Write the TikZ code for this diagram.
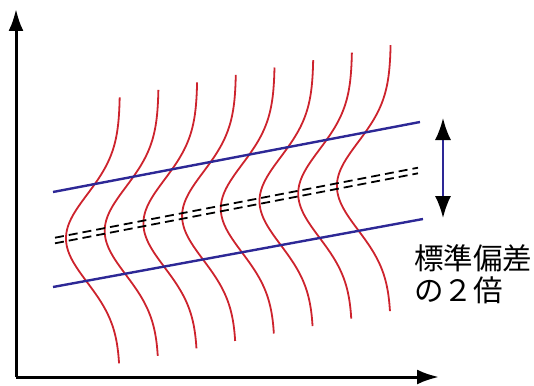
\documentclass[tikz,border=0pt]{standalone}
\usepackage{fontspec}
\newfontfamily\jpfont{Noto Sans CJK JP}
\usetikzlibrary{arrows.meta}
\definecolor{curvered}{RGB}{205,35,45}
\definecolor{bandblue}{RGB}{45,40,150}
\begin{document}
\begin{tikzpicture}[x=0.5pt,y=-0.5pt,
    axis/.style={line width=1.5pt,-{Latex[length=11pt,width=7.5pt]}},
    density/.style={curvered,line width=0.9pt},
    band/.style={bandblue,line width=1.2pt},
    meanline/.style={black,line width=0.9pt,dash pattern=on 4.5pt off 2.5pt}]
  \useasboundingbox (0,0) rectangle (534,385);
  \def\amp{54}
  \def\sig{44}
  \def\gap{38.7}
  \coordinate (O) at (16,377);
  \coordinate (Y) at (16,9);
  \coordinate (X) at (439,377);
  \coordinate (U1) at (53,192);
  \coordinate (U2) at (420,122);
  \coordinate (L1) at (53,287);
  \coordinate (L2) at (423,219);
  \coordinate (M1) at (55,240.5);
  \coordinate (M2) at (418,170.5);
  \coordinate (T) at (443,118);
  \coordinate (B) at (443,218);
  \draw[axis] (O)--(Y);
  \draw[axis] (O)--(X);
  % one density per group
  \foreach \i in {0,...,7}{
    \pgfmathsetmacro{\xa}{120+\gap*\i}
    \pgfmathsetmacro{\yc}{240.5-0.193*(\xa-\amp-55)}
    \draw[density,domain=-141:125,samples=60,smooth,variable=\t]
      plot ({\xa-\amp*exp(-0.5*(\t/\sig)*(\t/\sig))},{\yc+\t});
  }
  \draw[band] (U1)--(U2);
  \draw[band] (L1)--(L2);
  \draw[meanline] ([yshift=1.4pt]M1)--([yshift=1.4pt]M2);
  \draw[meanline] ([yshift=-1.4pt]M1)--([yshift=-1.4pt]M2);
  \draw[bandblue,line width=1pt,{Latex[color=black,length=11pt,width=8pt]}-{Latex[color=black,length=11pt,width=8pt]}] (T)--(B);
  \node[anchor=north west,inner sep=0pt,align=left,font=\jpfont\fontsize{14.75}{16}\selectfont] (sd) at (414,244) {標準偏差\\の２倍};
\end{tikzpicture}
\end{document}
